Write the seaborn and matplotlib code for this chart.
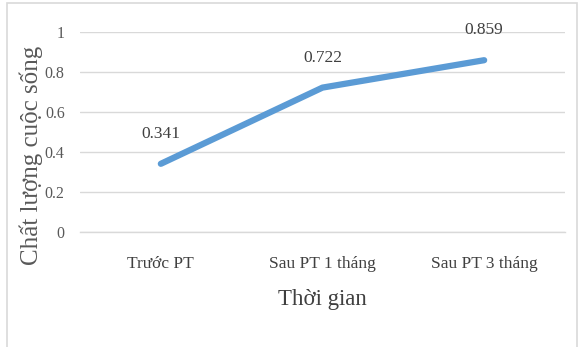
import pandas as pd
import seaborn as sns
import matplotlib.pyplot as plt
from matplotlib.patches import Rectangle

categories = ["Trước PT", "Sau PT 1 tháng", "Sau PT 3 tháng"]
values = [0.341, 0.722, 0.859]
yticks = [0, 0.2, 0.4, 0.6, 0.8, 1]
ytick_labels = ["0", "0.2", "0.4", "0.6", "0.8", "1"]

df = pd.DataFrame({"x": range(len(categories)), "y": values})

sns.set_theme(style="white")
plt.rcParams["font.family"] = ["Liberation Serif", "DejaVu Serif"]

fig = plt.figure(figsize=(5.85, 3.47), dpi=100)
ax = fig.add_axes([80 / 585, 1 - 232 / 347, 485 / 585, 200 / 347])

# khung viền ngoài
fig.patches.append(Rectangle((7 / 585, -0.05), 570 / 585, 1 - 3 / 347 + 0.05,
                             transform=fig.transFigure, fill=False,
                             edgecolor="#D9D9D9", linewidth=1.2))

sns.lineplot(data=df, x="x", y="y", ax=ax, color="#5B9BD5", linewidth=4.5)

for i, v in enumerate(values):
    ax.text(i, v + 0.15, f"{v:.3f}", ha="center", va="center",
            fontsize=12.5, color="#404040")

ax.set_xlim(-0.5, 2.5)
ax.set_ylim(0, 1)
ax.set_yticks(yticks)
ax.set_yticklabels(ytick_labels, fontsize=11.5, color="#595959")
ax.set_xticks(range(len(categories)))
ax.set_xticklabels(categories, fontsize=12.5, color="#404040")
ax.set_xticks([-0.5, 0.5, 1.5, 2.5], minor=True)
ax.tick_params(axis="x", which="major", length=0, pad=17)
ax.tick_params(axis="x", which="minor", length=5, color="#D9D9D9", width=1)
ax.tick_params(axis="y", length=0, pad=11)

ax.grid(axis="y", color="#D9D9D9", linewidth=1)
ax.set_axisbelow(True)
for s in ["top", "right", "left"]:
    ax.spines[s].set_visible(False)
ax.spines["bottom"].set_color("#D9D9D9")
ax.spines["bottom"].set_linewidth(1)

ax.set_xlabel("")
ax.set_ylabel("")
fig.text(322 / 585, 1 - 299 / 347, "Thời gian", ha="center", va="center",
         fontsize=16.5, color="#404040")
fig.text(31 / 585, 1 - 155 / 347, "Chất lượng cuộc sống", ha="center",
         va="center", rotation=90, fontsize=18, color="#595959")

fig.savefig("out.png", dpi=100)
